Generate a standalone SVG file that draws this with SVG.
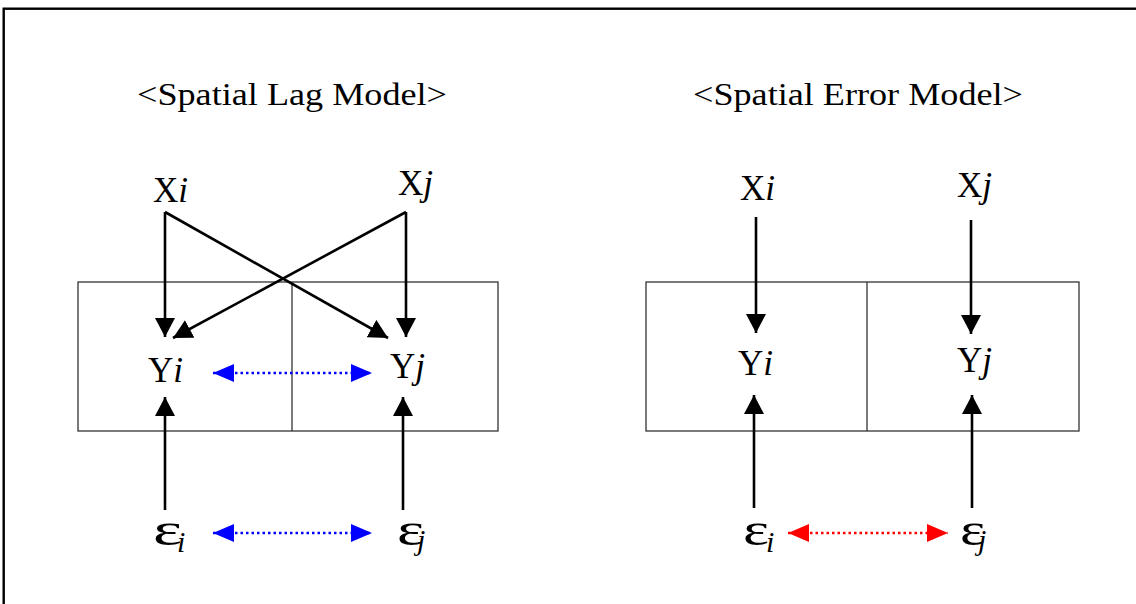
<svg xmlns="http://www.w3.org/2000/svg" width="1136" height="604" viewBox="0 0 1136 604">
<style>
  text { font-family: "Liberation Serif", "Times New Roman", serif; fill: #000; }
  .title { font-size: 32px; }
  .lbl { font-size: 35px; }
  .it { font-style: italic; }
  .eps { font-size: 46px; }
  .sub { font-size: 30px; font-style: italic; }
  .box { fill: none; stroke: #333; stroke-width: 1.3; }
  .arr { fill: none; stroke: #000; stroke-width: 2.6; marker-end: url(#ah); }
  .dotb { fill: none; stroke: #0000ff; stroke-width: 2.4; stroke-dasharray: 2.5 3; marker-start: url(#ahb); marker-end: url(#ahb); }
  .dotr { fill: none; stroke: #ff0000; stroke-width: 2.4; stroke-dasharray: 2.5 3; marker-start: url(#ahr); marker-end: url(#ahr); }
</style>
<defs>
  <marker id="ah" viewBox="0 0 19 20" refX="19" refY="10" markerWidth="19" markerHeight="20" markerUnits="userSpaceOnUse" orient="auto">
    <path d="M0,0 L19,10 L0,20 z" fill="#000"/>
  </marker>
  <marker id="ahb" viewBox="0 0 21 18" refX="21" refY="9" markerWidth="21" markerHeight="18" markerUnits="userSpaceOnUse" orient="auto-start-reverse">
    <path d="M0,0 L21,9 L0,18 z" fill="#0000ff"/>
  </marker>
  <marker id="ahr" viewBox="0 0 21 18" refX="21" refY="9" markerWidth="21" markerHeight="18" markerUnits="userSpaceOnUse" orient="auto-start-reverse">
    <path d="M0,0 L21,9 L0,18 z" fill="#ff0000"/>
  </marker>
</defs>
<rect x="0" y="0" width="1136" height="604" fill="#fff"/>
<rect x="3.7" y="8.7" width="1200" height="700" fill="none" stroke="#000" stroke-width="2.4"/>

<g id="titles">
  <text class="title" x="137" y="105" textLength="310" lengthAdjust="spacingAndGlyphs">&lt;Spatial Lag Model&gt;</text>
  <text class="title" x="693" y="105" textLength="330" lengthAdjust="spacingAndGlyphs">&lt;Spatial Error Model&gt;</text>
</g>

<g id="lag-cells">
  <rect class="box" x="78" y="282" width="420" height="149"/>
  <line class="box" x1="292" y1="282" x2="292" y2="431"/>
</g>
<g id="err-cells">
  <rect class="box" x="646" y="282" width="433" height="149"/>
  <line class="box" x1="867" y1="282" x2="867" y2="431"/>
</g>

<g id="connectors">
  <line class="arr" x1="165" y1="212" x2="165" y2="337"/>
  <line class="arr" x1="406" y1="212" x2="406" y2="337"/>
  <line class="arr" x1="165" y1="212" x2="388" y2="338"/>
  <line class="arr" x1="406" y1="212" x2="173" y2="338"/>
  <line class="arr" x1="165" y1="510" x2="165" y2="397"/>
  <line class="arr" x1="403" y1="510" x2="403" y2="397"/>
  <line class="dotb" x1="213" y1="373" x2="372" y2="373"/>
  <line class="dotb" x1="213" y1="533" x2="372" y2="533"/>

  <line class="arr" x1="756" y1="217" x2="756" y2="333"/>
  <line class="arr" x1="971" y1="220" x2="971" y2="334"/>
  <line class="arr" x1="754" y1="508" x2="754" y2="395"/>
  <line class="arr" x1="972" y1="508" x2="972" y2="395"/>
  <line class="dotr" x1="788" y1="533" x2="948" y2="533"/>
</g>

<g id="lag-Xi"><text class="lbl" x="153" y="202">X<tspan class="it">i</tspan></text></g>
<g id="lag-Xj"><text class="lbl" x="398" y="195">X<tspan class="it">j</tspan></text></g>
<g id="lag-Yi"><text class="lbl" x="148" y="382">Y<tspan class="it">i</tspan></text></g>
<g id="lag-Yj"><text class="lbl" x="390" y="378">Y<tspan class="it">j</tspan></text></g>
<g id="lag-ei"><text class="eps" x="153" y="545" textLength="29" lengthAdjust="spacingAndGlyphs">ε</text><text class="sub" x="177" y="552">i</text></g>
<g id="lag-ej"><text class="eps" x="397" y="545" textLength="27" lengthAdjust="spacingAndGlyphs">ε</text><text class="sub" x="417" y="550">j</text></g>

<g id="err-Xi"><text class="lbl" x="740" y="200">X<tspan class="it">i</tspan></text></g>
<g id="err-Xj"><text class="lbl" x="957" y="197">X<tspan class="it">j</tspan></text></g>
<g id="err-Yi"><text class="lbl" x="738" y="375">Y<tspan class="it">i</tspan></text></g>
<g id="err-Yj"><text class="lbl" x="957" y="372">Y<tspan class="it">j</tspan></text></g>
<g id="err-ei"><text class="eps" x="743" y="545" textLength="26" lengthAdjust="spacingAndGlyphs">ε</text><text class="sub" x="766" y="552">i</text></g>
<g id="err-ej"><text class="eps" x="960" y="545" textLength="25" lengthAdjust="spacingAndGlyphs">ε</text><text class="sub" x="978" y="550">j</text></g>
</svg>
